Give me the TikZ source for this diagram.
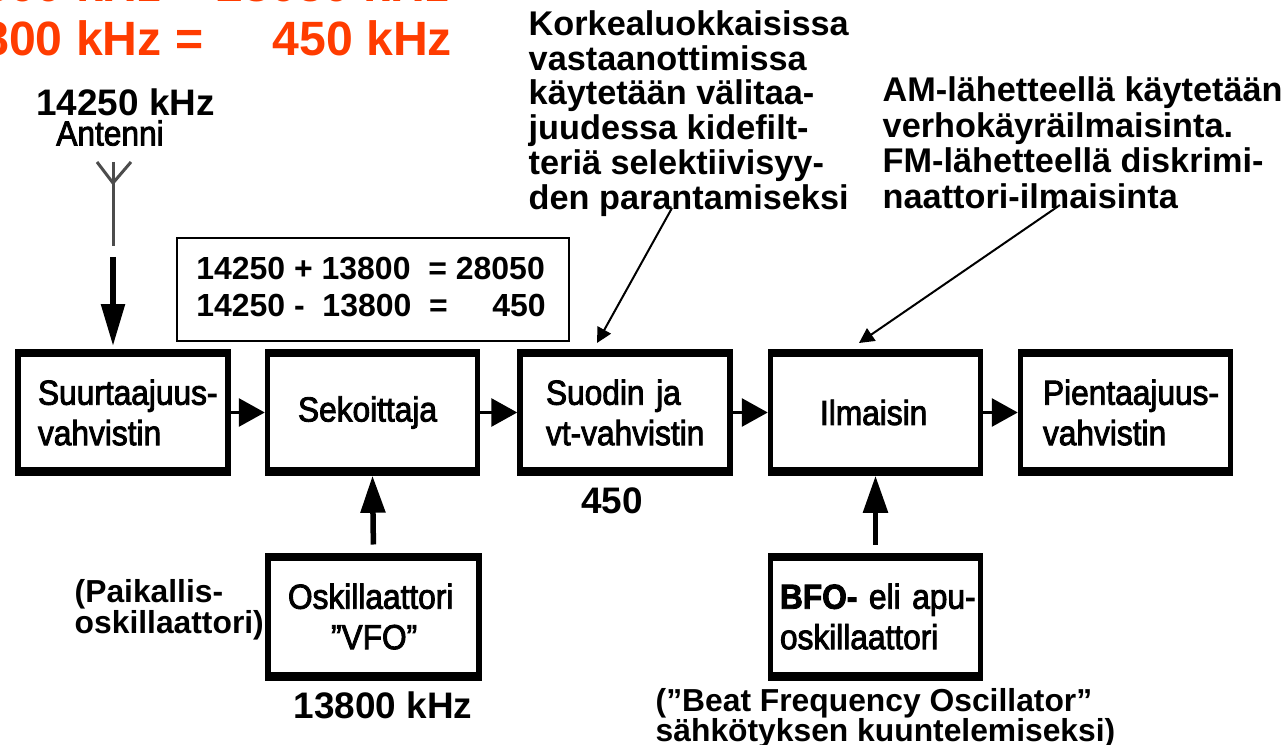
\documentclass[tikz,border=0pt]{standalone}
\usepackage{fontspec}
\setmainfont{Liberation Sans}
\newfontfamily\blockfont[FakeBold=2.5,FakeStretch=0.91]{Liberation Sans}
\usetikzlibrary{arrows.meta}
\definecolor{tulos}{RGB}{255,60,0}
\newcommand{\rivi}[1]{\mbox{#1}}
\tikzset{
    lohko/.style={draw, line width=0.055cm, minimum width=2.10cm, minimum height=1.21cm, inner sep=0pt, align=left, font=\blockfont\fontsize{9.9}{11.5}\selectfont},
    huomio/.style={anchor=north west, inner sep=0pt, align=left, font=\bfseries\fontsize{9.75}{9.95}\selectfont},
    pieni/.style={anchor=north west, inner sep=0pt, align=left, font=\bfseries\fontsize{9.05}{8.8}\selectfont},
    taajuus/.style={inner sep=0pt, font=\bfseries\fontsize{10.5}{12}\selectfont},
    punainen/.style={inner sep=0pt, anchor=base, text=tulos, font=\bfseries\fontsize{13.7}{16}\selectfont},
    sivu/.style={line width=0.03cm, -{Triangle[length=0.26cm, width=0.28cm]}},
    ylos/.style={line width=0.055cm, -{Triangle[length=0.37cm, width=0.24cm]}},
    viite/.style={line width=0.02cm, -{Triangle[length=0.15cm, width=0.15cm]}},
    masto/.style={line width=0.03cm, black!70}
}
\begin{document}
\begin{tikzpicture}[y=-1cm]
    \useasboundingbox (0,0) rectangle (12.87,7.45);
    \clip (0,0) rectangle (12.87,7.45);

    % tulos
    \node[punainen, anchor=base east] (ylarivi) at (2.04,0.02) {13800 kHz =};
    \node[punainen, anchor=base west] (ylatulos) at (2.16,0.02) {28050 kHz};
    \node[punainen, anchor=base east] (alarivi) at (2.04,0.56) {13800 kHz =};
    \node[punainen, anchor=base west] (alatulos) at (2.72,0.56) {450 kHz};

    % antenni
    \node[taajuus] (rf) at (1.255,1.02) {14250 kHz};
    \node[font=\blockfont\fontsize{9.9}{12}\selectfont, inner sep=0pt] (antenni) at (1.10,1.33) {Antenni};
    \draw[masto] (0.97,1.62) -- (1.13,1.83) -- (1.31,1.62);
    \draw[masto] (1.13,1.62) -- (1.13,2.46);

    % lohkot
    \node[lohko, text width=1.70cm] (suurtaajuus) at (1.23,4.125) {\rivi{Suurtaajuus-}\\vahvistin};
    \node[lohko, text width=1.49cm] (sekoittaja) at (3.725,4.125) {Sekoittaja};
    \node[lohko, text width=1.58cm] (suodin) at (6.25,4.125) {\rivi{Suodin ja}\\\rivi{vt-vahvistin}};
    \node[lohko, text width=1.11cm] (ilmaisin) at (8.755,4.125) {Ilmaisin};
    \node[lohko, text width=1.65cm] (pientaajuus) at (11.255,4.125) {\rivi{Pientaajuus-}\\vahvistin};
    \node[lohko, text width=1.71cm, minimum width=2.11cm, minimum height=1.225cm] (vfo) at (3.735,6.165) {Oskillaattori\\\hspace*{0.43cm}”VFO”};
    \node[lohko, text width=1.91cm, minimum height=1.225cm] (bfo) at (8.755,6.165) {\rivi{{\bfseries BFO-} eli apu-}\\oskillaattori};

    % reunat
    \foreach \lohkoname in {suurtaajuus,sekoittaja,suodin,ilmaisin,pientaajuus,vfo,bfo} {
        \fill (\lohkoname.north west) rectangle ([yshift=-0.08cm]\lohkoname.north east);
        \fill (\lohkoname.south west) rectangle ([yshift=0.085cm]\lohkoname.south east);
    }

    % laskut
    \node[draw, line width=0.02cm, minimum width=3.92cm, minimum height=1.03cm] (laskut) at (3.73,2.895) {};
    \node[inner sep=0pt, align=left, font=\bfseries\fontsize{9.1}{10.8}\selectfont] (rivit) at (3.71,2.87) {14250 + 13800\ \ = 28050\\14250 -\ \ 13800\ \ =\ \ \ \ \ 450};

    % huomiot
    \node[huomio] (kide) at (5.28,0.095) {Korkealuokkaisissa\\vastaanottimissa\\käytetään välitaa-\\juudessa kidefilt-\\teriä selektiivisyy-\\den parantamiseksi};
    \node[huomio, font=\bfseries\fontsize{9.75}{10.1}\selectfont] (am) at (8.82,0.76) {AM-lähetteellä käytetään\\verhokäyräilmaisinta.\\FM-lähetteellä diskrimi-\\naattori-ilmaisinta};
    \node[taajuus] (vt) at (6.12,5.01) {450};
    \node[taajuus] (lo) at (3.83,7.05) {13800 kHz};
    \node[pieni] (paik) at (0.74,5.79) {(Paikallis-\\oskillaattori)};
    \node[pieni, font=\bfseries\fontsize{9.05}{8.5}\selectfont] (beat) at (6.55,6.875) {(”Beat Frequency Oscillator”\\sähkötyksen kuuntelemiseksi)};

    % nuolet
    \coordinate (mastoala) at (1.13,2.57);
    \coordinate (mastokarki) at (1.13,3.46);
    \draw[ylos, -{Triangle[length=0.42cm, width=0.23cm]}] (mastoala) -- (mastokarki);
    \draw[sivu] (suurtaajuus) -- (sekoittaja);
    \draw[sivu] (sekoittaja) -- (suodin);
    \draw[sivu] (suodin) -- (ilmaisin);
    \draw[sivu] (ilmaisin) -- (pientaajuus);
    \draw[ylos, shorten <=0.08cm] (vfo.north) -- (sekoittaja.south);
    \draw[ylos, shorten <=0.08cm] (bfo.north) -- (ilmaisin.south);

    % viitteet
    \coordinate (kidealku) at (6.72,2.08);
    \coordinate (kideloppu) at (5.97,3.43);
    \coordinate (amalku) at (10.60,2.05);
    \coordinate (amloppu) at (8.59,3.43);
    \draw[viite] (kidealku) -- (kideloppu);
    \draw[viite] (amalku) -- (amloppu);
\end{tikzpicture}
\end{document}
